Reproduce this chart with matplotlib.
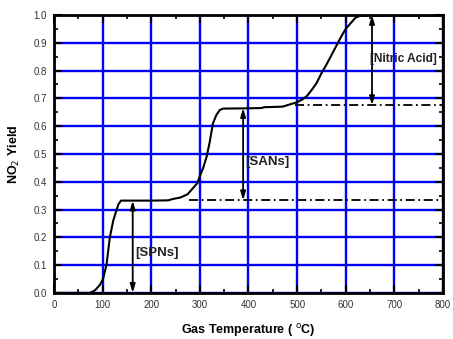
import numpy as np
import matplotlib.pyplot as plt
from matplotlib.ticker import MultipleLocator

plt.rcParams["font.family"] = ["Liberation Sans", "DejaVu Sans"]

# ---------- data ---------- #
temp = [0, 74, 85, 95, 101, 108, 115, 122, 129, 133, 138, 150, 200, 235,
        245, 260, 275, 285, 295, 300, 307, 314, 320, 327, 334, 341, 348,
        400, 427, 432, 470, 485, 500, 510, 520, 530, 540, 550, 560, 575,
        590, 600, 610, 620, 630, 700, 800]
yield_no2 = [0, 0, 0.01, 0.03, 0.05, 0.10, 0.20, 0.26, 0.30, 0.32, 0.332,
             0.332, 0.332, 0.333, 0.338, 0.343, 0.355, 0.375, 0.395, 0.42,
             0.45, 0.49, 0.54, 0.61, 0.64, 0.658, 0.663, 0.664, 0.665,
             0.668, 0.670, 0.678, 0.686, 0.695, 0.708, 0.73, 0.755, 0.79,
             0.82, 0.87, 0.92, 0.95, 0.97, 0.99, 0.997, 0.998, 0.998]

# dash-dot reference levels: (start T, level)
ref_lines = [(278, 0.333), (496, 0.675)]

# bracket arrows: (T, y_low, y_high, label, label T, label y, font size)
brackets = [(162, 0.0, 0.332, "[SPNs]", 168, 0.145, 9.5),
            (389, 0.333, 0.665, "[SANs]", 394, 0.47, 9.5),
            (654, 0.675, 1.0, "[Nitric Acid]", 650, 0.84, 8.6)]

# ---------- plotting ---------- #
fig = plt.figure(figsize=(4.53, 3.39), dpi=100)
ax = fig.add_axes([0.119, 0.136, 0.859, 0.820])

ax.plot(temp, yield_no2, color="black", linewidth=1.5, zorder=3)

for t0, lvl in ref_lines:
    ax.plot([t0, 800], [lvl, lvl], color="black", linewidth=1.3,
            linestyle=(0, (5, 2, 1, 2)), zorder=3)

for t, lo, hi, lab, tx, ty, fs in brackets:
    ax.annotate("", xy=(t, lo), xytext=(t, hi),
                arrowprops=dict(arrowstyle="<|-|>,head_length=0.5,head_width=0.15",
                                color="black", lw=1.3, shrinkA=0, shrinkB=0),
                zorder=4)
    ax.text(tx, ty, lab, fontsize=fs, fontweight="bold", color="#222222",
            ha="left", va="center", zorder=5, clip_on=False)

# ---------- cosmetics ---------- #
ax.set_xlim(0, 800)
ax.set_ylim(0, 1.0)
ax.xaxis.set_major_locator(MultipleLocator(100))
ax.xaxis.set_minor_locator(MultipleLocator(50))
ax.yaxis.set_minor_locator(MultipleLocator(0.05))
ax.set_yticks(np.arange(0, 1.01, 0.1))
ax.set_yticklabels([f"{v:.1f}" for v in np.arange(0, 1.01, 0.1)])

ax.grid(which="major", color="#0000ff", linewidth=1.7)
ax.set_axisbelow(True)
ax.tick_params(which="both", direction="in", top=True, right=True,
               color="black", labelsize=7, labelcolor="#333333")
ax.tick_params(which="major", length=6, width=1.5, pad=5)
ax.tick_params(which="minor", length=3, width=1.2)
for s in ax.spines.values():
    s.set_linewidth(2)

ax.set_xlabel("Gas Temperature ( $^{\\rm o}$C)", fontsize=9,
              fontweight="bold", labelpad=9)
ax.set_ylabel("NO$_{\\rm 2}$ Yield", fontsize=9, fontweight="bold",
              labelpad=8)

plt.savefig("out.png", dpi=100)
